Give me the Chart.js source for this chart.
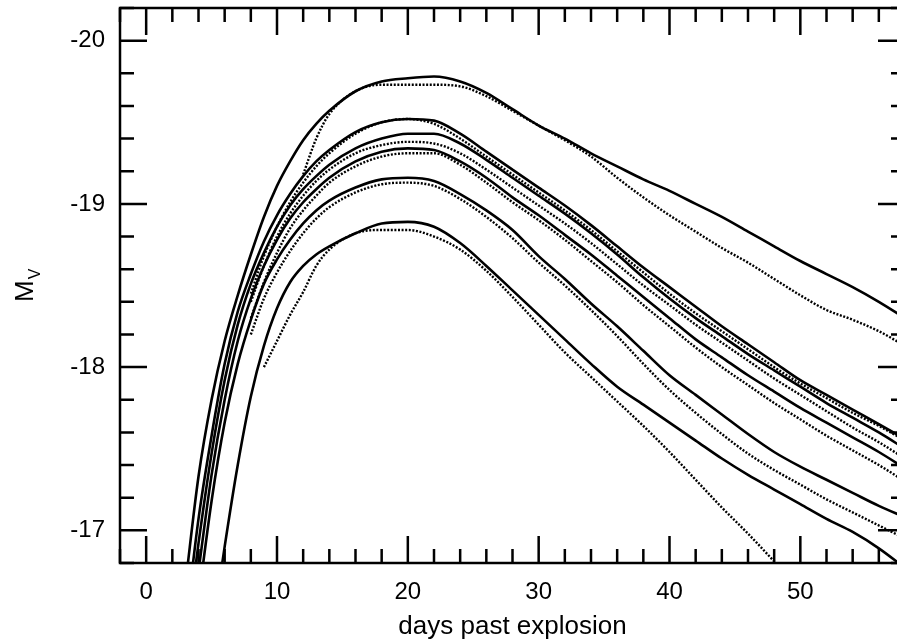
<!DOCTYPE html>
<html>
<head>
<meta charset="utf-8">
<script src="https://cdn.jsdelivr.net/npm/chart.js@4.4.1/dist/chart.umd.min.js"></script>
<style>
  html, body { margin: 0; padding: 0; background: #fff; overflow: hidden; }
  #wrap { position: relative; width: 920px; height: 644px; }
</style>
</head>
<body>
<div id="wrap"><canvas id="lc"></canvas></div>
<script>
// days since explosion (shared grid for every curve)
const days = [3, 4, 5, 6, 7, 8, 9, 10, 11, 12, 13, 14, 16, 18, 20, 22, 24, 26, 28, 30,
              32, 34, 36, 38, 40, 42, 44, 46, 48, 50, 52, 54, 56, 58];

// M_V, solid = model, dotted = observed
const modelA = [-16.67, -17.33, -17.80, -18.16, -18.44, -18.69, -18.92, -19.11, -19.26, -19.39, -19.49, -19.57, -19.69, -19.75, -19.77, -19.78, -19.75, -19.68, -19.58, -19.48,
                -19.40, -19.31, -19.23, -19.15, -19.08, -19.00, -18.92, -18.83, -18.74, -18.65, -18.57, -18.49, -18.40, -18.30];
const obsA   = [null, null, null, null, null, null, null, null, null, -19.18, -19.40, -19.55, -19.69, -19.73, -19.73, -19.73, -19.72, -19.66, -19.57, -19.48,
                -19.39, -19.29, -19.16, -19.04, -18.93, -18.83, -18.73, -18.64, -18.54, -18.44, -18.35, -18.29, -18.22, -18.13];
const modelB = [-16.40, -17.07, -17.58, -18.02, -18.34, -18.57, -18.77, -18.93, -19.06, -19.17, -19.26, -19.33, -19.44, -19.50, -19.52, -19.51, -19.43, -19.32, -19.21, -19.10,
                -18.99, -18.87, -18.74, -18.61, -18.49, -18.37, -18.25, -18.14, -18.03, -17.92, -17.83, -17.74, -17.65, -17.56];
const obsB   = [null, null, null, null, null, -18.45, -18.68, -18.86, -19.01, -19.13, -19.23, -19.31, -19.43, -19.50, -19.52, -19.49, -19.40, -19.29, -19.18, -19.07,
                -18.96, -18.84, -18.71, -18.58, -18.45, -18.33, -18.22, -18.11, -18.00, -17.90, -17.81, -17.72, -17.64, -17.55];
const modelC = [-16.30, -16.92, -17.47, -17.92, -18.26, -18.51, -18.70, -18.86, -18.99, -19.09, -19.17, -19.24, -19.34, -19.40, -19.43, -19.43, -19.37, -19.27, -19.16, -19.05,
                -18.94, -18.82, -18.69, -18.55, -18.42, -18.30, -18.19, -18.08, -17.98, -17.88, -17.78, -17.69, -17.60, -17.50];
const obsC   = [null, null, null, null, null, -18.40, -18.62, -18.80, -18.94, -19.05, -19.14, -19.21, -19.31, -19.36, -19.38, -19.37, -19.31, -19.21, -19.10, -18.99,
                -18.88, -18.76, -18.63, -18.50, -18.38, -18.26, -18.15, -18.04, -17.93, -17.83, -17.73, -17.63, -17.54, -17.44];
const modelD = [-16.15, -16.75, -17.34, -17.80, -18.16, -18.42, -18.62, -18.78, -18.91, -19.01, -19.09, -19.16, -19.26, -19.32, -19.34, -19.33, -19.26, -19.16, -19.04, -18.93,
                -18.81, -18.69, -18.56, -18.43, -18.30, -18.17, -18.06, -17.95, -17.85, -17.75, -17.66, -17.57, -17.48, -17.38];
const obsD   = [null, null, null, null, null, -18.30, -18.52, -18.70, -18.85, -18.96, -19.05, -19.13, -19.23, -19.29, -19.31, -19.31, -19.24, -19.13, -19.01, -18.90,
                -18.78, -18.65, -18.52, -18.38, -18.25, -18.12, -18.00, -17.89, -17.78, -17.68, -17.58, -17.49, -17.40, -17.30];
const modelE = [-16.00, -16.58, -17.18, -17.66, -18.02, -18.29, -18.51, -18.66, -18.78, -18.88, -18.96, -19.02, -19.10, -19.15, -19.16, -19.14, -19.06, -18.96, -18.84, -18.68,
                -18.54, -18.39, -18.25, -18.10, -17.95, -17.83, -17.71, -17.59, -17.48, -17.39, -17.31, -17.23, -17.15, -17.08];
const obsE   = [null, null, null, null, null, -18.20, -18.42, -18.58, -18.71, -18.82, -18.91, -18.98, -19.07, -19.12, -19.13, -19.11, -19.03, -18.92, -18.79, -18.64,
                -18.50, -18.35, -18.19, -18.02, -17.86, -17.72, -17.59, -17.47, -17.37, -17.28, -17.19, -17.11, -17.03, -16.95];
const modelF = [null, null, -16.35, -16.90, -17.40, -17.82, -18.13, -18.36, -18.52, -18.62, -18.69, -18.74, -18.82, -18.88, -18.89, -18.86, -18.76, -18.62, -18.47, -18.32,
                -18.17, -18.02, -17.88, -17.77, -17.66, -17.55, -17.44, -17.34, -17.25, -17.16, -17.07, -16.99, -16.89, -16.77];
const obsF   = [null, null, null, null, null, null, -18.00, -18.16, -18.32, -18.46, -18.62, -18.72, -18.82, -18.84, -18.84, -18.80, -18.72, -18.59, -18.43, -18.26,
                -18.09, -17.94, -17.79, -17.64, -17.48, -17.31, -17.14, -16.98, -16.81, -16.64, null, null, null, null];

const xMajor = [0, 10, 20, 30, 40, 50];
const yMajor = [-20, -19, -18, -17];

const models = [modelA, modelB, modelC, modelD, modelE, modelF];
const observed = [obsA, obsB, obsC, obsD, obsE, obsF];

function toPoints(vals) {
  return days.map((d, i) => ({ x: d, y: vals[i] }));
}

const datasets = [];
models.forEach(m => {
  datasets.push({
    data: toPoints(m),
    borderColor: '#000',
    borderWidth: 2.6,
    pointRadius: 0,
    cubicInterpolationMode: 'monotone'
  });
});
observed.forEach(o => {
  datasets.push({
    data: toPoints(o),
    borderColor: '#000',
    borderWidth: 2.4,
    borderDash: [2, 1.6],
    pointRadius: 0,
    cubicInterpolationMode: 'monotone'
  });
});

// frame with inward ticks on all four sides, plus the M_V label
const framePlugin = {
  id: 'frame',
  afterDraw(chart) {
    const { ctx, chartArea: a, scales: { x, y } } = chart;
    ctx.save();
    ctx.strokeStyle = '#000';
    ctx.lineWidth = 2.5;
    ctx.strokeRect(a.left, a.top, a.right - a.left, a.bottom - a.top);
    ctx.beginPath();
    x.ticks.forEach(t => {
      const px = x.getPixelForValue(t.value);
      const major = xMajor.some(v => Math.abs(v - t.value) < 1e-6);
      const len = major ? 27 : 14;
      ctx.moveTo(px, a.bottom); ctx.lineTo(px, a.bottom - len);
      ctx.moveTo(px, a.top); ctx.lineTo(px, a.top + len);
    });
    y.ticks.forEach(t => {
      const py = y.getPixelForValue(t.value);
      const major = yMajor.some(v => Math.abs(v - t.value) < 1e-6);
      const len = major ? 27 : 14;
      ctx.moveTo(a.left, py); ctx.lineTo(a.left + len, py);
      ctx.moveTo(a.right, py); ctx.lineTo(a.right - len, py);
    });
    ctx.stroke();

    ctx.translate(33, 302);
    ctx.rotate(-Math.PI / 2);
    ctx.fillStyle = '#000';
    ctx.textAlign = 'left';
    ctx.textBaseline = 'alphabetic';
    ctx.font = "26px 'Liberation Sans', Arial, sans-serif";
    ctx.fillText('M', 0, 0);
    const w = ctx.measureText('M').width;
    ctx.font = "16px 'Liberation Sans', Arial, sans-serif";
    ctx.fillText('V', w + 1, 7);
    ctx.restore();
  }
};

Chart.defaults.font.family = "'Liberation Sans', Arial, sans-serif";
Chart.defaults.color = '#000';

const ctx = document.getElementById('lc').getContext('2d');
new Chart(ctx, {
  type: 'line',
  data: { datasets: datasets },
  options: {
    responsive: true,
    maintainAspectRatio: false,
    animation: false,
    layout: { padding: { left: 0, top: 8, right: 15, bottom: 0 } },
    plugins: {
      legend: { display: false },
      tooltip: { enabled: false }
    },
    scales: {
      x: {
        type: 'linear',
        min: -2,
        max: 58,
        grid: { display: false, drawTicks: false },
        border: { display: false },
        ticks: {
          stepSize: 2,
          autoSkip: false,
          maxRotation: 0,
          padding: 15,
          font: { size: 24 },
          callback: v => (Math.abs(v % 10) < 1e-6 ? String(v) : '')
        },
        title: {
          display: true,
          text: 'days past explosion',
          font: { size: 26 },
          padding: { top: 0, bottom: 2 }
        },
        afterFit: s => { s.height = 81; s.paddingLeft = 0; s.paddingRight = 0; }
      },
      y: {
        type: 'linear',
        reverse: true,
        min: -20.2,
        max: -16.8,
        grid: { display: false, drawTicks: false },
        border: { display: false },
        ticks: {
          stepSize: 0.2,
          autoSkip: false,
          padding: 15,
          font: { size: 24 },
          callback: v => (Math.abs(v - Math.round(v)) < 1e-6 ? String(Math.round(v)) : '')
        },
        afterFit: s => { s.width = 120; s.paddingTop = 0; s.paddingBottom = 0; }
      }
    }
  },
  plugins: [framePlugin]
});
</script>
</body>
</html>
